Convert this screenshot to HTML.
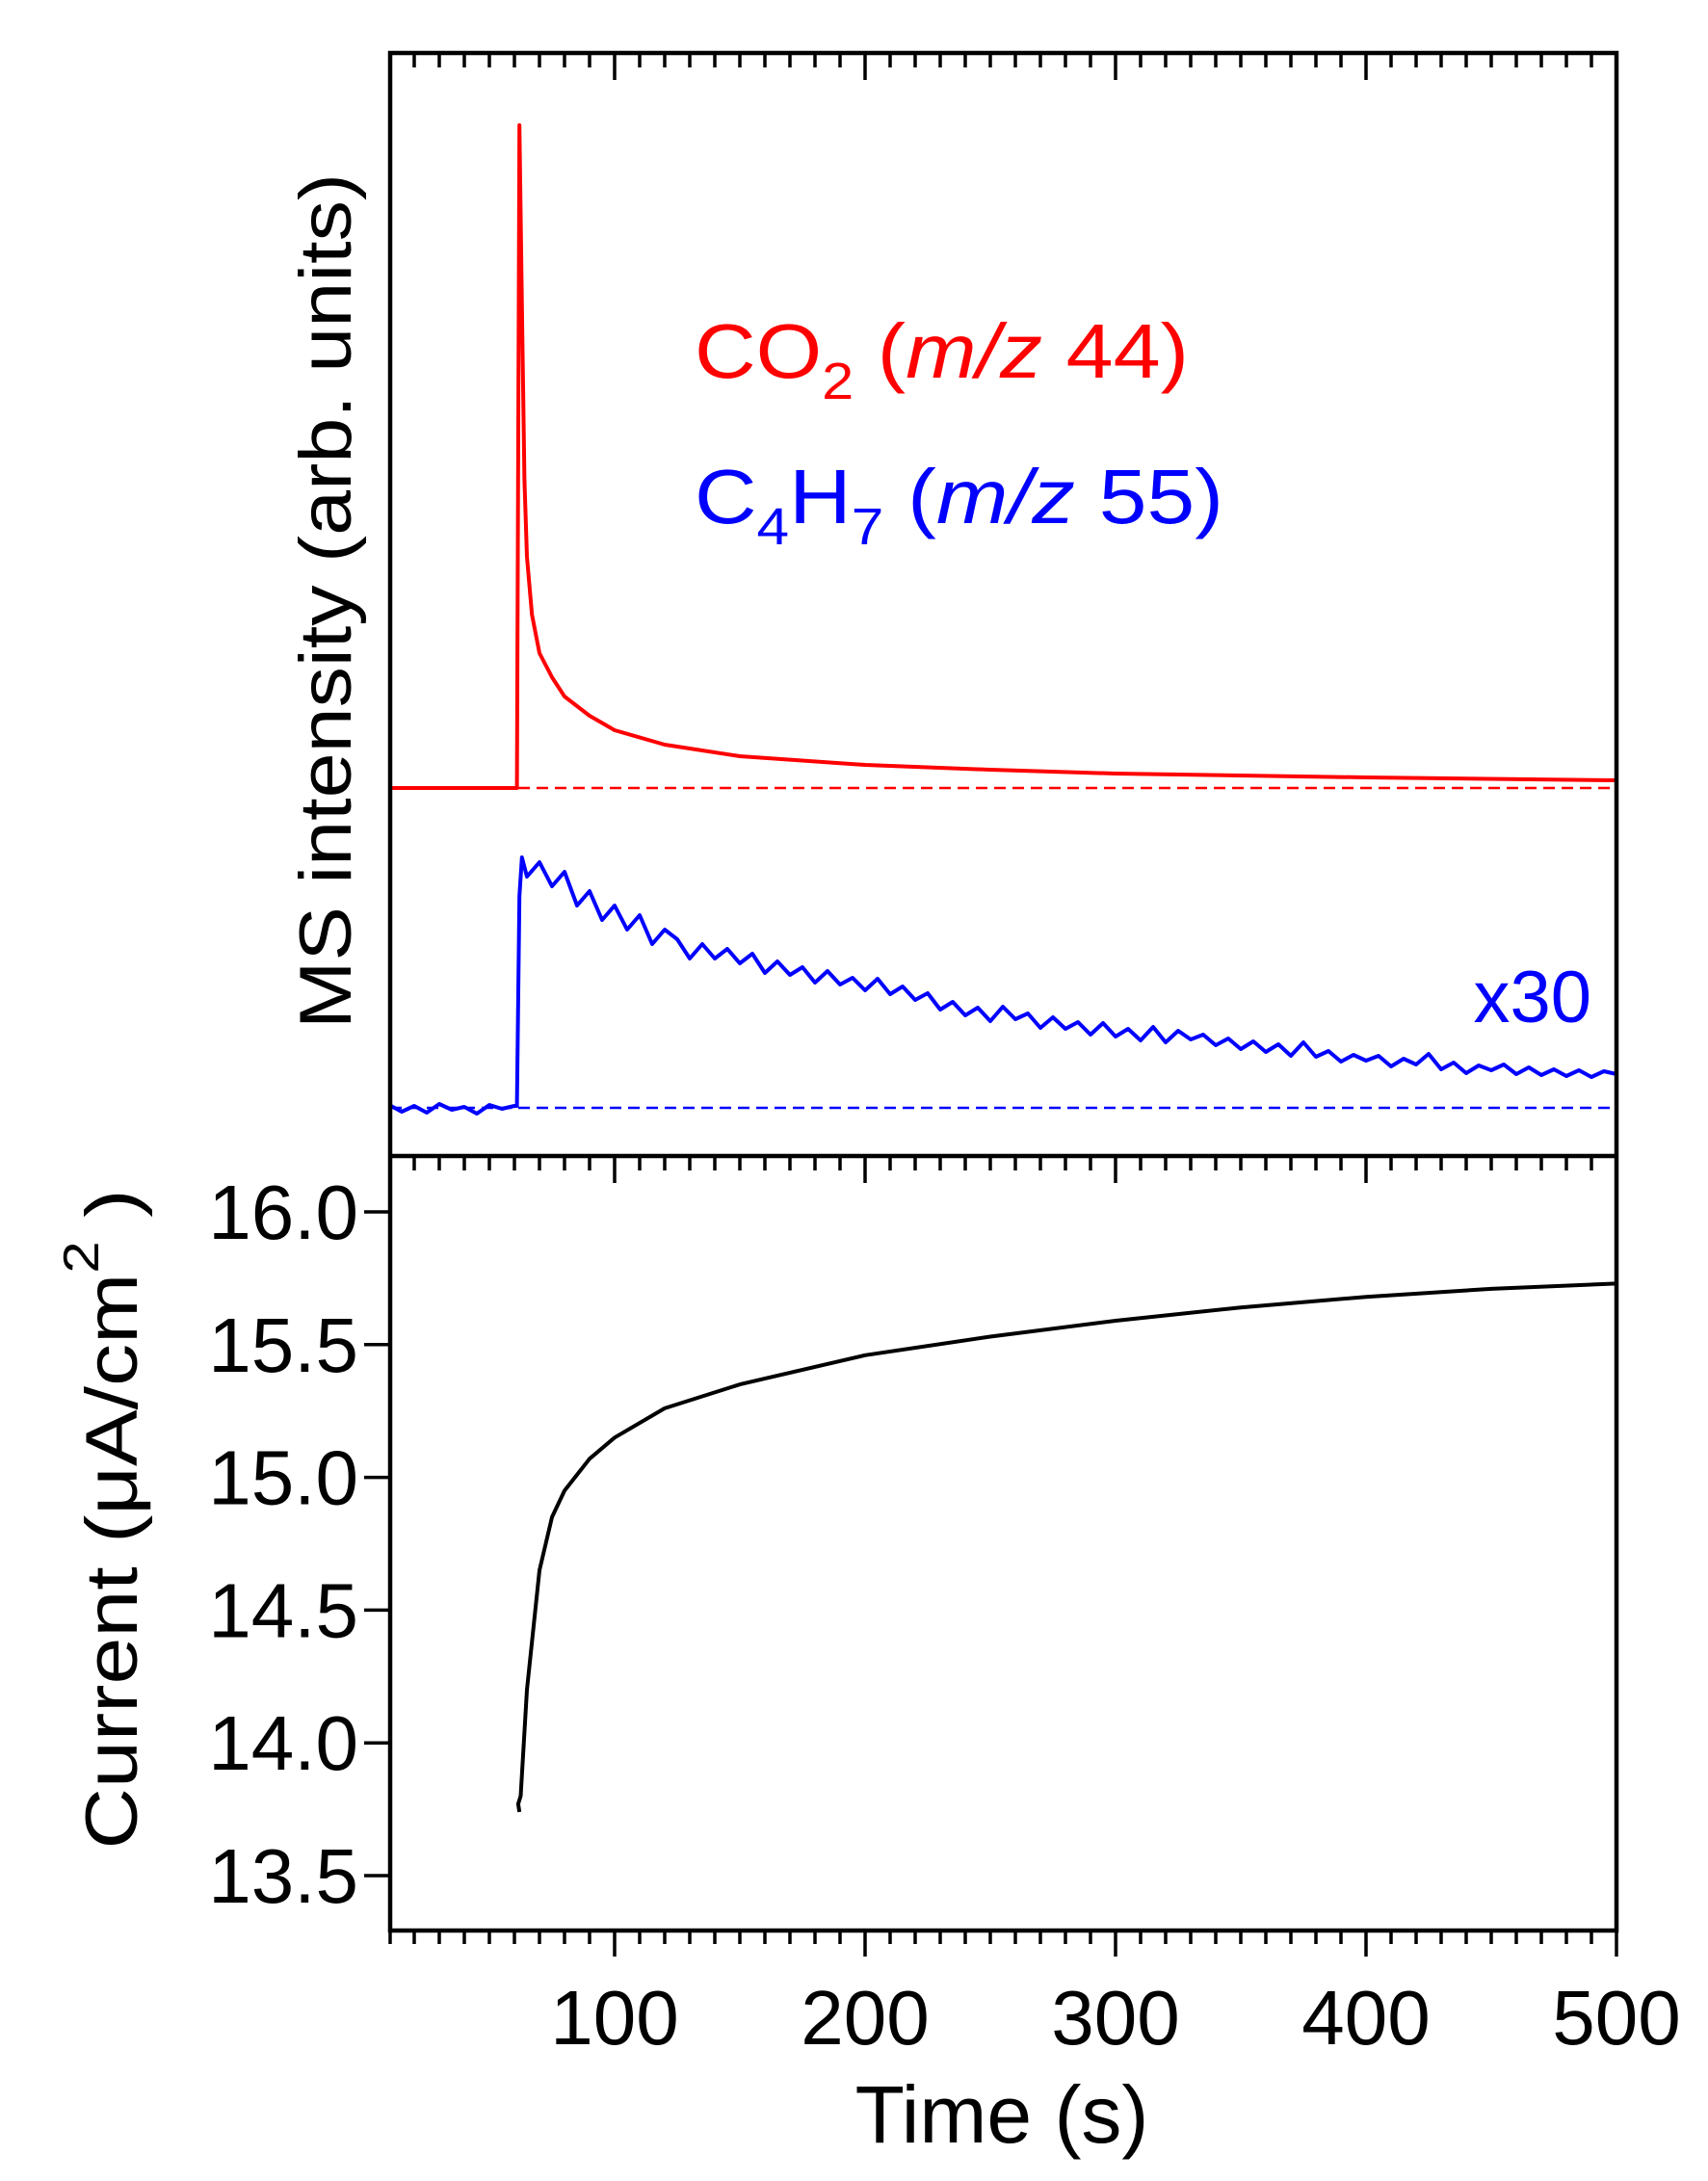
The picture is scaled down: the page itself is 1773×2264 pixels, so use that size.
<!DOCTYPE html>
<html><head><meta charset="utf-8"><style>
html,body{margin:0;padding:0;background:#fff;}
svg{display:block;font-family:"Liberation Sans",Arial,sans-serif;}
</style></head><body>
<svg id="chart" width="1773" height="2264" viewBox="0 0 1773 2264" xmlns="http://www.w3.org/2000/svg">
<rect width="1773" height="2264" fill="#fff"/>
<g id="marks"></g>
<g id="axes"></g>
<text x="721" y="392" font-size="80" fill="#ff0000" textLength="513" lengthAdjust="spacingAndGlyphs">CO<tspan font-size="54" dy="22">2</tspan><tspan dy="-22"> (</tspan><tspan font-style="italic">m/z</tspan> 44)</text>
<text x="721" y="543" font-size="80" fill="#0000ff" textLength="549" lengthAdjust="spacingAndGlyphs">C<tspan font-size="54" dy="22">4</tspan><tspan dy="-22">H</tspan><tspan font-size="54" dy="22">7</tspan><tspan dy="-22"> (</tspan><tspan font-style="italic">m/z</tspan> 55)</text>
<text x="1652" y="1061" font-size="76" fill="#0000ff" text-anchor="end">x30</text>
<text transform="translate(364,624) rotate(-90)" font-size="76" text-anchor="middle" textLength="888" lengthAdjust="spacingAndGlyphs">MS intensity (arb. units)</text>
<text transform="translate(142,1577) rotate(-90)" font-size="76" text-anchor="middle" textLength="685" lengthAdjust="spacingAndGlyphs">Current (μA/cm<tspan font-size="52" dy="-40">2</tspan><tspan dy="40"> )</tspan></text>
<text x="1040" y="2224" font-size="84" text-anchor="middle">Time (s)</text>
</svg>
<script>
const redTimes=[10,60,61,62,63,64,65,67,70,75,80,90,100,120,150,200,250,300,400,500];
const redValues=[0,0,0,68.8,50,32,24,18,14,11.5,9.5,7.5,6,4.5,3.3,2.4,1.9,1.5,1.1,0.8];
const blueTimes=[10,15,20,25,30,35,40,45,50,55,60,61,62,63,65,70,75,80,85,90,95,100,105,110,115,120,125,130,135,140,145,150,155,160,165,170,175,180,185,190,195,200,205,210,215,220,225,230,235,240,245,250,255,260,265,270,275,280,285,290,295,300,305,310,315,320,325,330,335,340,345,350,355,360,365,370,375,380,385,390,395,400,405,410,415,420,425,430,435,440,445,450,455,460,465,470,475,480,485,490,495,500];
const blueValues=[0.3,-0.4,0.2,-0.5,0.4,-0.2,0.1,-0.6,0.3,-0.1,0.2,0.2,22,26,24,25.5,23,24.5,21,22.5,19.5,21,18.5,20,17,18.5,17.5,15.5,17,15.5,16.5,15,16,14,15.2,13.8,14.6,13,14.2,12.8,13.5,12.2,13.4,11.8,12.6,11.2,11.9,10.2,11,9.6,10.4,9,10.5,9.2,9.8,8.3,9.4,8.2,8.9,7.6,8.8,7.4,8.2,7,8.4,6.8,8,7.1,7.6,6.5,7.2,6.1,6.9,5.8,6.6,5.4,6.8,5.3,5.9,4.8,5.5,4.9,5.4,4.3,5.1,4.5,5.6,4,4.7,3.6,4.4,3.9,4.5,3.5,4.2,3.4,4,3.3,3.9,3.2,3.8,3.5];
const curTimes=[62,61.5,62.5,65,70,75,80,90,100,120,150,200,250,300,350,400,450,500];
const curValues=[13.74,13.77,13.8,14.2,14.65,14.85,14.95,15.07,15.15,15.26,15.35,15.46,15.53,15.59,15.64,15.68,15.71,15.73];
const xTicks=[100,200,300,400,500];
const yTicks=[13.5,14.0,14.5,15.0,15.5,16.0];

const NS='http://www.w3.org/2000/svg';
const L=405,R=1678,T=55,MID=1200,B=2004;
const X0=10.4,X1=500;
function xs(t){return L+(t-X0)/(X1-X0)*(R-L);}
function yRed(v){return 818-v*10;}
function yBlue(v){return 1150-v*10;}
function yCur(v){return 1258+(16.0-v)*275.6;}
const marks=document.getElementById('marks'),axes=document.getElementById('axes');
function mk(tag,attrs,parent){const e=document.createElementNS(NS,tag);for(const k in attrs)e.setAttribute(k,attrs[k]);parent.appendChild(e);return e;}
function poly(ts,vs,yf){return ts.map((t,i)=>xs(t).toFixed(1)+','+yf(vs[i]).toFixed(1)).join(' ');}

let e;
e=mk('line',{x1:L,x2:R,y1:yRed(0),y2:yRed(0),stroke:'#ff0000','stroke-width':2.5,'stroke-dasharray':'12,7'},marks);


e=mk('line',{x1:L,x2:R,y1:yBlue(0),y2:yBlue(0),stroke:'#0000ff','stroke-width':2.5,'stroke-dasharray':'12,7'},marks);


e=mk('polyline',{points:poly(redTimes,redValues,yRed),fill:'none',stroke:'#ff0000','stroke-width':4,'stroke-linejoin':'round'},marks);


e=mk('polyline',{points:poly(blueTimes,blueValues,yBlue),fill:'none',stroke:'#0000ff','stroke-width':4,'stroke-linejoin':'round'},marks);


e=mk('polyline',{points:poly(curTimes,curValues,yCur),fill:'none',stroke:'#000','stroke-width':4,'stroke-linejoin':'round'},marks);



e=mk('rect',{x:L,y:T,width:R-L,height:B-T,fill:'none',stroke:'#000','stroke-width':4.5},axes);


e=mk('line',{x1:L,x2:R,y1:MID,y2:MID,stroke:'#000','stroke-width':4.5},axes);



let d='';
for(let t=20;t<=500;t+=10){
  const x=xs(t).toFixed(1);const major=(t%100===0);const len=major?28:15;
  d+=`M${x},${T}v${len}M${x},${MID}v${len}M${x},${B}v${len-1}`;
}
d+=`M${L},${B}v14`;
e=mk('path',{d:d,stroke:'#000','stroke-width':3.5,fill:'none'},axes);



xTicks.forEach(t=>{
  const tx=mk('text',{x:xs(t),y:2122,'font-size':80,'text-anchor':'middle'},axes);
  tx.textContent=String(t);
  
  
});
yTicks.forEach(v=>{
  const y=yCur(v);
  const ln=mk('line',{x1:L-27,x2:L,y1:y,y2:y,stroke:'#000','stroke-width':3.5},axes);
  
  
  const tx=mk('text',{x:372,y:y+28,'font-size':80,'text-anchor':'end'},axes);
  tx.textContent=v.toFixed(1);
  
  
});
</script>
</body></html>
